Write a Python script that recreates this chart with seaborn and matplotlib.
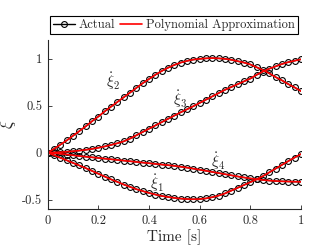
"""Actual vs polynomial approximation of the xi-dot states over time."""
import matplotlib.pyplot as plt
import pandas as pd
import seaborn as sns
from matplotlib.lines import Line2D

TIME = [0.0, 0.025, 0.05, 0.075, 0.1, 0.125, 0.15, 0.175, 0.2, 0.225,
        0.25, 0.275, 0.3, 0.325, 0.35, 0.375, 0.4, 0.425, 0.45, 0.475,
        0.5, 0.525, 0.55, 0.575, 0.6, 0.625, 0.65, 0.675, 0.7, 0.725,
        0.75, 0.775, 0.8, 0.825, 0.85, 0.875, 0.9, 0.925, 0.95, 0.975, 1.0]

XI1 = [0.0, -0.028, -0.055, -0.082, -0.11, -0.137, -0.165, -0.195, -0.225, -0.255,
       -0.285, -0.312, -0.34, -0.365, -0.39, -0.41, -0.43, -0.447, -0.462, -0.473,
       -0.483, -0.49, -0.495, -0.497, -0.495, -0.488, -0.475, -0.458, -0.435, -0.405,
       -0.375, -0.345, -0.315, -0.285, -0.25, -0.21, -0.17, -0.13, -0.09, -0.052, -0.015]

XI2 = [0.0, 0.04, 0.085, 0.13, 0.18, 0.23, 0.28, 0.335, 0.385, 0.44,
       0.49, 0.54, 0.59, 0.64, 0.69, 0.74, 0.785, 0.83, 0.87, 0.905,
       0.935, 0.96, 0.978, 0.992, 1.0, 1.005, 1.008, 1.005, 1.0, 0.99,
       0.975, 0.96, 0.94, 0.91, 0.88, 0.845, 0.805, 0.77, 0.73, 0.695, 0.655]

XI3 = [0.0, 0.002, 0.005, 0.01, 0.015, 0.022, 0.03, 0.04, 0.052, 0.066,
       0.082, 0.1, 0.12, 0.15, 0.185, 0.22, 0.255, 0.29, 0.325, 0.36,
       0.395, 0.43, 0.462, 0.495, 0.53, 0.565, 0.6, 0.635, 0.67, 0.7,
       0.73, 0.76, 0.79, 0.83, 0.865, 0.895, 0.92, 0.945, 0.965, 0.98, 0.995]

XI4 = [0.0, -0.006, -0.012, -0.02, -0.028, -0.036, -0.043, -0.05, -0.057, -0.064,
       -0.071, -0.078, -0.085, -0.092, -0.099, -0.106, -0.113, -0.12, -0.127, -0.134,
       -0.141, -0.15, -0.16, -0.171, -0.182, -0.194, -0.206, -0.218, -0.23, -0.242,
       -0.254, -0.265, -0.275, -0.284, -0.292, -0.298, -0.303, -0.306, -0.308, -0.31, -0.311]

STATES = ["xi1", "xi2", "xi3", "xi4"]
LABELS = {"xi1": r"$\dot{\xi}_1$", "xi2": r"$\dot{\xi}_2$",
          "xi3": r"$\dot{\xi}_3$", "xi4": r"$\dot{\xi}_4$"}
LABEL_POS = {"xi1": (0.43, -0.33), "xi2": (0.258, 0.76),
             "xi3": (0.522, 0.573), "xi4": (0.675, -0.086)}

X_TICKS = [0, 0.2, 0.4, 0.6, 0.8, 1]
X_TICK_LABELS = ["0", "0.2", "0.4", "0.6", "0.8", "1"]
Y_TICKS = [-0.5, 0, 0.5, 1]
Y_TICK_LABELS = ["-0.5", "0", "0.5", "1"]

sns.set_style("ticks")
plt.rcParams["font.family"] = ["cmr10", "DejaVu Serif"]
plt.rcParams["mathtext.fontset"] = "cm"
plt.rcParams["axes.unicode_minus"] = False
plt.rcParams["axes.formatter.use_mathtext"] = True

df = pd.DataFrame({
    "time": TIME * 4,
    "value": XI1 + XI2 + XI3 + XI4,
    "state": [s for s in STATES for _ in TIME],
})

fig = plt.figure(figsize=(3.32, 2.49), dpi=100)
ax = fig.add_axes([0.1437, 0.161, 0.763, 0.678])

sns.lineplot(data=df, x="time", y="value", units="state", estimator=None,
             color="black", lw=1.0, marker="o", markersize=4.2,
             markerfacecolor="none", markeredgecolor="black",
             markeredgewidth=0.8, ax=ax, legend=False)
sns.lineplot(data=df, x="time", y="value", units="state", estimator=None,
             color="red", lw=1.2, ax=ax, legend=False)

for s in STATES:
    ax.text(*LABEL_POS[s], LABELS[s], fontsize=11, ha="center", va="center")

ax.set_xlim(0, 1)
ax.set_ylim(-0.6, 1.2)
ax.set_xticks(X_TICKS, X_TICK_LABELS)
ax.set_yticks(Y_TICKS, Y_TICK_LABELS)
ax.tick_params(direction="in", length=3, width=0.6, labelsize=9, pad=4)
for side in ["left", "bottom"]:
    ax.spines[side].set_linewidth(0.8)
sns.despine(ax=ax)
ax.set_xlabel("Time [s]", fontsize=11, labelpad=2)
ax.set_ylabel(r"$\dot{\xi}$", fontsize=12)
ax.yaxis.set_label_coords(-0.115, 0.5)

handles = [
    Line2D([], [], color="black", lw=1.0, marker="o", markersize=4.2,
           markerfacecolor="none", markeredgewidth=0.8),
    Line2D([], [], color="red", lw=1.2),
]
leg = fig.legend(handles, ["Actual", "Polynomial Approximation"], ncol=2,
                 loc="center", bbox_to_anchor=(0.523, 0.9), fontsize=9,
                 frameon=True, fancybox=False, edgecolor="black", framealpha=1,
                 handlelength=1.8, handletextpad=0.25, columnspacing=0.4,
                 borderpad=0.25, borderaxespad=0)
leg.get_frame().set_linewidth(0.8)

fig.savefig("out.png", dpi=100)
